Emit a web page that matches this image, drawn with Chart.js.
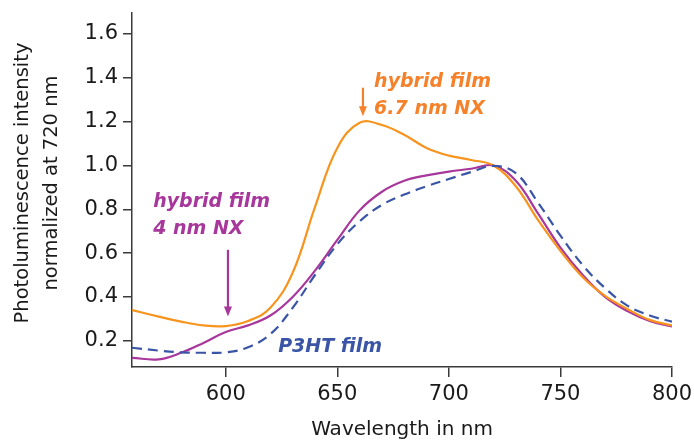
<!DOCTYPE html>
<html>
<head>
<meta charset="utf-8">
<script src="https://cdn.jsdelivr.net/npm/chart.js@4.4.1/dist/chart.umd.min.js"></script>
<style>
  html, body { margin: 0; padding: 0; background: #fff; }
</style>
</head>
<body>
<canvas id="plChart" width="694" height="443"></canvas>
<script>
// wavelengths (nm) where the curves were read
const wavelengths = [558, 570, 580, 590, 600, 610, 620, 630, 640, 650, 660, 670, 680,
  690, 700, 710, 720, 730, 740, 750, 760, 770, 780, 790, 800];

// PL intensity normalized at 720 nm
const hybrid67 = [0.34, 0.31, 0.287, 0.27, 0.267, 0.29, 0.35, 0.51, 0.81, 1.08, 1.195, 1.185, 1.14,
  1.08, 1.045, 1.025, 1.0, 0.905, 0.75, 0.61, 0.49, 0.405, 0.345, 0.295, 0.27];
const hybrid4 = [0.122, 0.115, 0.145, 0.19, 0.24, 0.27, 0.315, 0.40, 0.52, 0.66, 0.795, 0.88, 0.93,
  0.955, 0.972, 0.985, 1.0, 0.93, 0.78, 0.625, 0.50, 0.40, 0.335, 0.29, 0.265];
const p3ht = [0.168, 0.155, 0.147, 0.145, 0.147, 0.17, 0.23, 0.35, 0.50, 0.64, 0.745, 0.82, 0.867,
  0.905, 0.938, 0.97, 0.998, 0.965, 0.83, 0.68, 0.545, 0.44, 0.36, 0.315, 0.287];

// tick labels
const xTicks = [600, 650, 700, 750, 800];
const yTicks = [0.2, 0.4, 0.6, 0.8, 1.0, 1.2, 1.4, 1.6];
const yTitle = ['Photoluminescence intensity', 'normalized at 720 nm'];

const ORANGE = '#f7941d';
const MAGENTA = '#a8379c';
const BLUE = '#3a55a5';
const AXIS = '#3a3a3a';

function toPoints(vals) {
  return wavelengths.map((w, i) => ({ x: w, y: vals[i] }));
}

// text labels and arrows, placed in data units
const labels = [
  { lines: ['hybrid film', '6.7 nm NX'], color: '#f5822a', x: 666.5, y: 1.36 },
  { lines: ['hybrid film', '4 nm NX'], color: MAGENTA, x: 567.5, y: 0.81 },
  { lines: ['P3HT film'], color: BLUE, x: 623.5, y: 0.15 }
];
const arrows = [
  { color: '#f5822a', x: 661.5, from: 1.355, to: 1.225 },
  { color: MAGENTA, x: 601, from: 0.615, to: 0.31 }
];

const notesPlugin = {
  id: 'notes',
  afterDatasetsDraw(chart) {
    const { ctx, scales: { x, y } } = chart;
    ctx.save();
    ctx.font = 'italic bold 19px "DejaVu Sans"';
    ctx.textBaseline = 'alphabetic';
    ctx.textAlign = 'left';
    labels.forEach((lab) => {
      ctx.fillStyle = lab.color;
      const px = x.getPixelForValue(lab.x);
      const py = y.getPixelForValue(lab.y);
      lab.lines.forEach((t, i) => ctx.fillText(t, px, py + i * 27));
    });
    arrows.forEach((a) => {
      const px = x.getPixelForValue(a.x);
      const top = y.getPixelForValue(a.from);
      const tip = y.getPixelForValue(a.to);
      ctx.strokeStyle = a.color;
      ctx.fillStyle = a.color;
      ctx.lineWidth = 2.2;
      ctx.beginPath();
      ctx.moveTo(px, top);
      ctx.lineTo(px, tip - 8);
      ctx.stroke();
      ctx.beginPath();
      ctx.moveTo(px - 4, tip - 10);
      ctx.lineTo(px + 4, tip - 10);
      ctx.lineTo(px, tip);
      ctx.closePath();
      ctx.fill();
    });

    // y axis title, two lines, centred a bit above the middle like the original
    ctx.translate(0, (y.top + y.bottom) / 2 - 7);
    ctx.rotate(-Math.PI / 2);
    ctx.font = '19.5px "DejaVu Sans"';
    ctx.fillStyle = '#1a1a1a';
    ctx.textAlign = 'center';
    ctx.textBaseline = 'middle';
    yTitle.forEach((t, i) => ctx.fillText(t, 0, 23 + i * 29));
    ctx.restore();
  }
};

new Chart(document.getElementById('plChart'), {
  type: 'line',
  data: {
    datasets: [
      {
        label: 'P3HT film',
        data: toPoints(p3ht),
        borderColor: BLUE,
        borderWidth: 2.2,
        borderDash: [10, 6],
        pointRadius: 0,
        tension: 0.4,
        fill: false
      },
      {
        label: 'hybrid film 6.7 nm NX',
        data: toPoints(hybrid67),
        borderColor: ORANGE,
        borderWidth: 2.2,
        pointRadius: 0,
        tension: 0.4,
        fill: false
      },
      {
        label: 'hybrid film 4 nm NX',
        data: toPoints(hybrid4),
        borderColor: MAGENTA,
        borderWidth: 2.2,
        pointRadius: 0,
        tension: 0.4,
        fill: false
      }
    ]
  },
  options: {
    responsive: false,
    animation: false,
    devicePixelRatio: 1,
    layout: { padding: { top: 13, right: 22, left: 0, bottom: 0 } },
    plugins: {
      legend: { display: false },
      tooltip: { enabled: false }
    },
    scales: {
      x: {
        type: 'linear',
        min: 558,
        max: 800,
        afterBuildTicks: (s) => { s.ticks = xTicks.map((v) => ({ value: v })); },
        afterFit: (s) => { s.height = 76; s.paddingRight = 0; s.paddingLeft = 0; },
        grid: { drawOnChartArea: false, tickLength: 10, color: AXIS, lineWidth: 1.5 },
        border: { color: AXIS, width: 1.5 },
        ticks: { color: '#1a1a1a', padding: 5, font: { family: 'DejaVu Sans', size: 21 } },
        title: {
          display: true,
          text: 'Wavelength in nm',
          color: '#1a1a1a',
          font: { family: 'DejaVu Sans', size: 20 },
          padding: { top: 0, bottom: 1 }
        }
      },
      y: {
        min: 0.08,
        max: 1.696,
        afterBuildTicks: (s) => { s.ticks = yTicks.map((v) => ({ value: v })); },
        afterFit: (s) => { s.width = 132; s.paddingTop = 0; s.paddingBottom = 0; },
        grid: { drawOnChartArea: false, tickLength: 9, color: AXIS, lineWidth: 1.5 },
        border: { color: AXIS, width: 1.5 },
        ticks: {
          color: '#1a1a1a',
          padding: 5,
          font: { family: 'DejaVu Sans', size: 21 },
          callback: (v) => v.toFixed(1)
        },
        title: { display: false }
      }
    }
  },
  plugins: [notesPlugin]
});
</script>
</body>
</html>
